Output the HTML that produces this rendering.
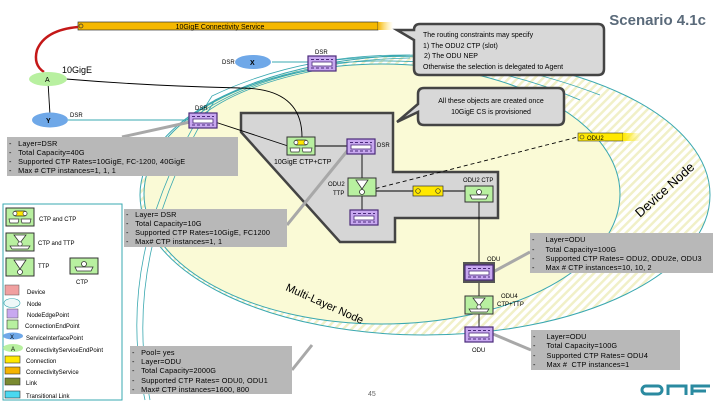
<!DOCTYPE html>
<html><head><meta charset="utf-8"><style>
html,body{margin:0;padding:0;background:#fff}
svg{display:block}
text{font-family:"Liberation Sans",sans-serif;fill:#000}
.ib text{font-size:7.3px;letter-spacing:.15px}
</style></head><body>
<svg width="720" height="405" viewBox="0 0 720 405" xmlns="http://www.w3.org/2000/svg">
<defs>
<pattern id="h" width="6" height="6" patternUnits="userSpaceOnUse" patternTransform="rotate(45)">
<rect width="6" height="6" fill="#fff"/><rect width="2.5" height="6" fill="#f1f0c8"/></pattern>
<linearGradient id="fy" x1="0" x2="1"><stop offset="0" stop-color="#ffe800"/><stop offset="1" stop-color="#ffe800" stop-opacity="0"/></linearGradient>
<linearGradient id="fo" x1="0" x2="1"><stop offset="0" stop-color="#f5b400"/><stop offset="1" stop-color="#ffe060" stop-opacity="0"/></linearGradient>
<g id="nep"><rect x="0" y="0" width="28" height="15" fill="#c8a8f0" stroke="#4a2a7a" stroke-width="1.2"/>
<line x1="3" y1="3.5" x2="25" y2="3.5" stroke="#4a2a7a" stroke-dasharray="3 2"/><rect x="4" y="6" width="20" height="4" fill="#fff" stroke="#4a2a7a" stroke-width=".8"/><line x1="3" y1="12" x2="25" y2="12" stroke="#4a2a7a" stroke-dasharray="3 2"/></g>
<g id="cc"><rect x="0" y="0" width="28" height="18" fill="#b8f0a0" stroke="#333"/><rect x="7" y="3" width="14" height="5" rx="2.5" fill="#ffe800" stroke="#333" stroke-width=".7"/><circle cx="9" cy="5.5" r="2" fill="#fff" stroke="#333" stroke-width=".6"/><circle cx="19" cy="5.5" r="2" fill="#fff" stroke="#333" stroke-width=".6"/><path d="M3 11h10l-1 4h-8z M15 11h10l-1 4h-8z" fill="#fff" stroke="#333" stroke-width=".7"/></g>
<g id="ttp"><rect x="0" y="0" width="28" height="18" fill="#b8f0a0" stroke="#333"/><path d="M8 2h12l-6 9z" fill="#fff" stroke="#333" stroke-width=".8"/><circle cx="14" cy="14" r="2.5" fill="#fff" stroke="#333" stroke-width=".8"/></g>
<g id="ctp"><rect x="0" y="0" width="28" height="16" fill="#b8f0a0" stroke="#333"/><circle cx="14" cy="6" r="2.5" fill="#fff" stroke="#333" stroke-width=".8"/><path d="M5 9h18l-2 4h-14z" fill="#fff" stroke="#333" stroke-width=".8"/></g>
<g id="ct"><rect x="0" y="0" width="28" height="18" fill="#b8f0a0" stroke="#333"/><path d="M8 2h12l-6 8z" fill="#fff" stroke="#333" stroke-width=".8"/><circle cx="14" cy="11" r="2.2" fill="#fff" stroke="#333" stroke-width=".7"/><path d="M4 13h20l-2 3h-16z" fill="#fff" stroke="#333" stroke-width=".7"/></g>
</defs>

<ellipse cx="425" cy="195" rx="285" ry="140" fill="url(#h)" stroke="#3aa8b0" stroke-width="1"/>
<ellipse cx="382" cy="194" rx="238" ry="130" fill="#fafad6" stroke="#3aa8b0" stroke-width="1"/>
<g fill="none" stroke="#3aa8b0" stroke-width=".8">
<path d="M150 400 Q120 250 215 100 Q300 60 410 58"/>
<path d="M145 400 Q112 250 212 96 Q300 54 410 55"/>
<path d="M336 60 Q470 45 600 95"/>
<path d="M336 63 Q470 52 580 100"/>
<path d="M322 68 Q250 80 200 113"/>
<path d="M318 70 Q245 84 205 113"/>
</g>
<text x="285" y="290" font-size="11" transform="rotate(24 285 290)">Multi-Layer Node</text>
<text x="640" y="218" font-size="13" fill="#222" transform="rotate(-42 640 218)">Device Node</text>

<polygon points="241,113 393,113 393,172 498,172 498,218 395,218 395,242 340,242 241,132" fill="#d6d6d6" stroke="#444" stroke-width="2.5"/>

<rect x="78" y="22" width="300" height="8" fill="#f5b800" stroke="#333" stroke-width=".7"/>
<rect x="378" y="22" width="15" height="8" fill="url(#fo)"/>
<circle cx="81" cy="26" r="2" fill="none" stroke="#333" stroke-width=".7"/>
<text x="220" y="29" font-size="7" text-anchor="middle">10GigE Connectivity Service</text>
<path d="M78 27 Q45 30 37 50 Q33 65 44 72" fill="none" stroke="#c41818" stroke-width="2.5"/>

<g stroke="#000" stroke-width=".9" fill="none">
<line x1="48" y1="82" x2="50" y2="115"/>
<path d="M66 79 Q150 86 240 88 Q302 88 302 137"/>
<line x1="215" y1="122" x2="288" y2="146"/>
<line x1="315" y1="146" x2="347" y2="146"/>
<line x1="362" y1="153" x2="362" y2="178"/>
<line x1="362" y1="196" x2="362" y2="210"/>
<line x1="376" y1="191" x2="465" y2="191"/>
<line x1="479" y1="202" x2="479" y2="327"/>
<path d="M362 192 L578 137" stroke-dasharray="4 3"/>
</g>
<line x1="68" y1="120" x2="190" y2="120" stroke="#3aa8b0" stroke-width=".9"/>
<line x1="272" y1="62" x2="308" y2="62" stroke="#3aa8b0" stroke-width=".9"/>

<g stroke="#a8a8a8" stroke-width="3">
<line x1="122" y1="137" x2="190" y2="122"/>
<line x1="287" y1="225" x2="348" y2="150"/>
<line x1="493" y1="272" x2="530" y2="252"/>
<line x1="493" y1="334" x2="531" y2="350"/>
<line x1="292" y1="370" x2="312" y2="345"/>
</g>

<ellipse cx="48" cy="79" rx="19" ry="7" fill="#b8f0a0"/><text x="45" y="82" font-size="7">A</text>
<text x="62" y="73" font-size="9">10GigE</text>
<ellipse cx="50" cy="120" rx="18" ry="7.5" fill="#6fa8e8"/><text x="46" y="123" font-size="7" font-weight="bold">Y</text>
<text x="70" y="117" font-size="6">DSR</text>
<ellipse cx="253" cy="62" rx="18" ry="7" fill="#6fa8e8"/><text x="250" y="65" font-size="7" font-weight="bold">X</text>
<text x="222" y="64" font-size="6">DSR</text>

<use href="#nep" x="308" y="56"/><text x="315" y="54" font-size="6">DSR</text>
<use href="#nep" x="189" y="113"/><text x="195" y="110" font-size="6">DSR</text>
<use href="#cc" x="287" y="137"/><text x="274" y="164" font-size="7">10GigE CTP+CTP</text>
<use href="#nep" x="347" y="139"/><text x="377" y="147" font-size="6">DSR</text>
<use href="#ttp" x="348" y="178"/><text x="328" y="186" font-size="6">ODU2</text><text x="333" y="195" font-size="6">TTP</text>
<use href="#nep" x="350" y="210"/>
<rect x="413" y="186" width="30" height="10" fill="#ffe800" stroke="#333" stroke-width=".7"/>
<circle cx="418" cy="191" r="2.3" fill="none" stroke="#333" stroke-width=".7"/><circle cx="438" cy="191" r="2.3" fill="none" stroke="#333" stroke-width=".7"/>
<use href="#ctp" x="465" y="186"/><text x="463" y="182" font-size="6">ODU2 CTP</text>
<rect x="578" y="133" width="45" height="8" fill="#ffe800" stroke="#333" stroke-width=".6"/>
<rect x="623" y="133" width="18" height="8" fill="url(#fy)"/>
<circle cx="582" cy="137" r="2" fill="none" stroke="#333" stroke-width=".6"/><text x="587" y="140" font-size="6">ODU2</text>
<rect x="463" y="262" width="32" height="21" fill="#555"/>
<use href="#nep" x="465" y="265"/><text x="487" y="261" font-size="6">ODU</text>
<use href="#ct" x="465" y="296"/><text x="501" y="298" font-size="6">ODU4</text><text x="497" y="306" font-size="6">CTP+TTP</text>
<use href="#nep" x="465" y="327"/><text x="472" y="352" font-size="6">ODU</text>

<g class="ib">
<rect x="7" y="137" width="231" height="39" fill="#b8b8b8"/>
<text x="9" y="146">-&#160;&#160;&#160;Layer=DSR</text><text x="9" y="155">-&#160;&#160;&#160;Total Capacity=40G</text><text x="9" y="164">-&#160;&#160;&#160;Supported CTP Rates=10GigE, FC-1200, 40GigE</text><text x="9" y="173">-&#160;&#160;&#160;Max # CTP instances=1, 1, 1</text>
<rect x="124" y="209" width="163" height="38" fill="#b8b8b8"/>
<text x="126" y="217">-&#160;&#160;&#160;Layer= DSR</text><text x="126" y="226">-&#160;&#160;&#160;Total Capacity=10G</text><text x="126" y="235">-&#160;&#160;&#160;Supported CTP Rates=10GigE, FC1200</text><text x="126" y="244">-&#160;&#160;&#160;Max# CTP instances=1, 1</text>
<rect x="530" y="233" width="183" height="40" fill="#b8b8b8"/>
<text x="532" y="242">-&#160;&#160;&#160;&#160;&#160;Layer=ODU</text><text x="532" y="252">-&#160;&#160;&#160;&#160;&#160;Total Capacity=100G</text><text x="532" y="261">-&#160;&#160;&#160;&#160;&#160;Supported CTP Rates= ODU2, ODU2e, ODU3</text><text x="532" y="270">-&#160;&#160;&#160;&#160;&#160;Max # CTP instances=10, 10, 2</text>
<rect x="531" y="330" width="149" height="40" fill="#b8b8b8"/>
<text x="533" y="339">-&#160;&#160;&#160;&#160;&#160;Layer=ODU</text><text x="533" y="348">-&#160;&#160;&#160;&#160;&#160;Total Capacity=100G</text><text x="533" y="358">-&#160;&#160;&#160;&#160;&#160;Supported CTP Rates= ODU4</text><text x="533" y="367">-&#160;&#160;&#160;&#160;&#160;Max #&#160;&#160;CTP instances=1</text>
<rect x="130" y="346" width="162" height="48" fill="#b8b8b8"/>
<text x="132" y="355">-&#160;&#160;&#160;Pool= yes</text><text x="132" y="364">-&#160;&#160;&#160;Layer=ODU</text><text x="132" y="373">-&#160;&#160;&#160;Total Capacity=2000G</text><text x="132" y="383">-&#160;&#160;&#160;Supported CTP Rates= ODU0, ODU1</text><text x="132" y="392">-&#160;&#160;&#160;Max# CTP instances=1600, 800</text>
</g>

<path d="M420 24 H598 Q604 24 604 30 V69 Q604 75 598 75 H420 Q414 75 414 69 V40 L397 30 L414 30 V30 Q414 24 420 24Z" fill="#d8d8d8" stroke="#444" stroke-width="2.5"/>
<g font-size="7"><text x="423" y="37">The routing constraints may specify</text><text x="423" y="48">1) The ODU2 CTP (slot)</text><text x="424" y="58">2) The ODU NEP</text><text x="423" y="69">Otherwise the selection is delegated to Agent</text></g>
<path d="M424 88 H558 Q564 88 564 94 V119 Q564 125 558 125 H424 Q418 125 418 119 V112 L397 122 L418 104 V94 Q418 88 424 88Z" fill="#d8d8d8" stroke="#444" stroke-width="2.5"/>
<g font-size="7" text-anchor="middle"><text x="491" y="103">All these objects are created once</text><text x="491" y="114">10GigE CS is provisioned</text></g>

<text x="706" y="25" font-size="15" font-weight="bold" text-anchor="end" style="fill:#5a6a7a">Scenario 4.1c</text>

<rect x="3" y="204" width="119" height="196" fill="#fff" stroke="#3aa8b0" stroke-width="1"/>
<use href="#cc" x="6" y="208"/><text x="39" y="221" font-size="6">CTP and CTP</text>
<use href="#ct" x="6" y="233"/><text x="38" y="245" font-size="6">CTP and TTP</text>
<use href="#ttp" x="6" y="258"/><text x="38" y="268" font-size="6">TTP</text>
<use href="#ctp" x="70" y="258"/><text x="76" y="284" font-size="6">CTP</text>
<rect x="5" y="285" width="14" height="10" fill="#f0a0a0" stroke="#555" stroke-width=".5"/><text x="27" y="294" font-size="6">Device</text>
<ellipse cx="12" cy="303" rx="8" ry="4.5" fill="#eef8f8" stroke="#3aa8b0" stroke-width=".6"/><text x="27" y="306" font-size="6">Node</text>
<rect x="7" y="309" width="11" height="9" fill="#c8a8f0" stroke="#555" stroke-width=".5"/><text x="27" y="317" font-size="6">NodeEdgePoint</text>
<rect x="7" y="320" width="11" height="9" fill="#b8f0a0" stroke="#333" stroke-width=".6"/><text x="25" y="328" font-size="6">ConnectionEndPoint</text>
<ellipse cx="13" cy="336" rx="10" ry="3.5" fill="#6fa8e8"/><text x="10" y="339" font-size="6">X</text><text x="26" y="340" font-size="6">ServiceInterfacePoint</text>
<ellipse cx="13" cy="348" rx="10" ry="4" fill="#b8f0a0"/><text x="11" y="351" font-size="6">A</text><text x="26" y="352" font-size="6">ConnectivityServiceEndPoint</text>
<rect x="5" y="356" width="15" height="7" fill="#ffe800" stroke="#333" stroke-width=".6"/><text x="26" y="363" font-size="6">Connection</text>
<rect x="5" y="367" width="15" height="7" fill="#f5b400" stroke="#333" stroke-width=".6"/><text x="26" y="374" font-size="6">ConnectivityService</text>
<rect x="5" y="378" width="15" height="7" fill="#7a8a30" stroke="#333" stroke-width=".6"/><text x="26" y="385" font-size="6">Link</text>
<rect x="5" y="391" width="15" height="7" fill="#4ad8f0" stroke="#333" stroke-width=".6"/><text x="26" y="398" font-size="6">Transitional Link</text>

<text x="368" y="396" font-size="7" style="fill:#666">45</text>
<g fill="none" stroke="#2a8aa0" stroke-width="3">
<rect x="642" y="386" width="20" height="8" rx="4"/>
<path d="M668 395 V386 H686 V395"/>
<path d="M692 395 V386 H710 M692 391 H706"/>
</g>
</svg>
</body></html>
